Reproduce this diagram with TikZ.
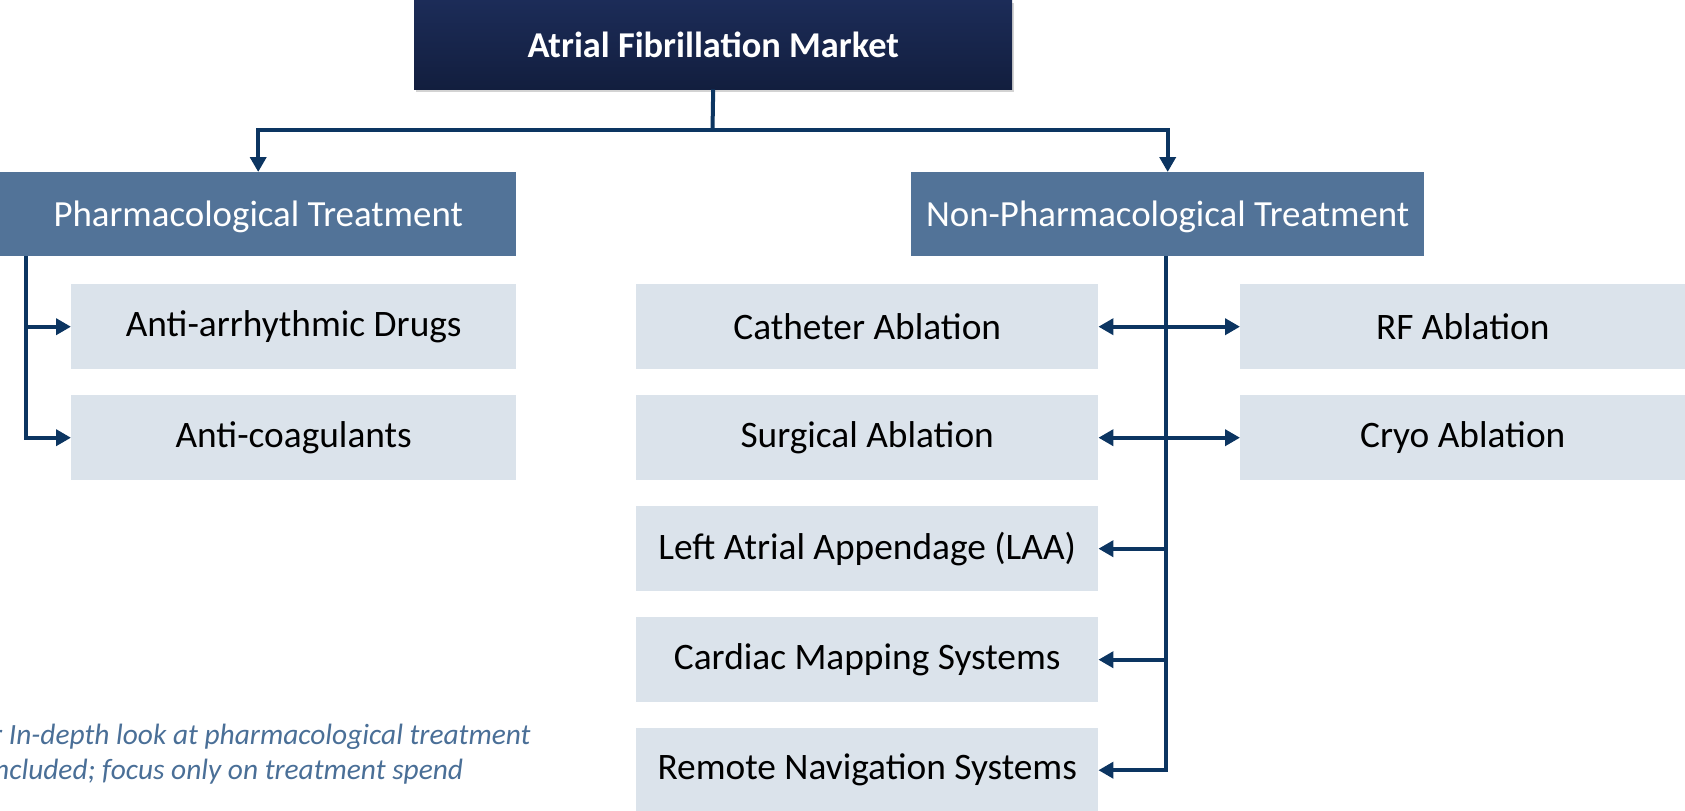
\documentclass[tikz,border=0pt]{standalone}
\usepackage{fontspec}
\setmainfont{Carlito}
\usetikzlibrary{arrows.meta,shadows,positioning}
\definecolor{navytop}{RGB}{28,44,88}
\definecolor{navybot}{RGB}{18,30,62}
\definecolor{midblue}{RGB}{82,115,152}
\definecolor{lightbox}{RGB}{219,227,235}
\definecolor{linecol}{RGB}{12,53,97}
\definecolor{notecol}{RGB}{74,111,151}
\tikzset{
  topbox/.style={rectangle, inner sep=0, minimum width=598bp, minimum height=89bp,
    top color=navytop, bottom color=navybot, text=white, font=\fontsize{36.5}{40}\selectfont\bfseries,
    drop shadow={shadow xshift=2bp, shadow yshift=-3bp, opacity=0.35}},
  midbox/.style={rectangle, inner sep=0, minimum height=84bp, fill=midblue, text=white,
    text depth=0bp, font=\fontsize{37}{40}\selectfont},
  leafbox/.style={rectangle, inner sep=0, minimum height=85bp, fill=lightbox, text=black,
    font=\fontsize{37.5}{40}\selectfont},
  conn/.style={draw=linecol, line width=4bp},
  arr/.style={conn, -{Triangle[length=15bp,width=16bp]}},
  darr/.style={conn, {Triangle[length=15bp,width=16bp]}-{Triangle[length=15bp,width=16bp]}},
  note/.style={text=notecol, font=\fontsize{29.5}{34}\selectfont\itshape, inner sep=0}
}
\begin{document}
\begin{tikzpicture}[x=1bp,y=-1bp]
\useasboundingbox (0,0) rectangle (1685,811);
% top
\node[topbox, anchor=north west] (top) at (414,0) {Atrial Fibrillation Market};
% level 2
\node[midbox, minimum width=516bp, anchor=north west] (ph) at (0,172) {Pharmacological Treatment};
\node[midbox, minimum width=513bp, anchor=north west] (nph) at (911,172) {Non-Pharmacological Treatment};
% pharmacological leaves
\node[leafbox, minimum width=445bp, anchor=north west] (aad) at (71,284) {Anti-arrhythmic Drugs};
\node[leafbox, minimum width=445bp, anchor=north west] (ac) at (71,395) {Anti-coagulants};
% non-pharmacological leaves
\node[leafbox, minimum width=462bp, anchor=north west] (cat) at (636,284) {Catheter Ablation};
\node[leafbox, minimum width=462bp, anchor=north west] (sur) at (636,395) {Surgical Ablation};
\node[leafbox, minimum width=462bp, anchor=north west] (laa) at (636,506) {Left Atrial Appendage (LAA)};
\node[leafbox, minimum width=462bp, anchor=north west] (cms) at (636,617) {Cardiac Mapping Systems};
\node[leafbox, minimum width=462bp, anchor=north west, minimum height=84bp] (rns) at (636,728) {Remote Navigation Systems};
\node[leafbox, minimum width=445bp, anchor=north west] (rf) at (1240,284) {RF Ablation};
\node[leafbox, minimum width=445bp, anchor=north west] (cryo) at (1240,395) {Cryo Ablation};
% note
\node[note, anchor=base west] (n1) at (-8,744) {r In-depth look at pharmacological treatment};
\node[note, anchor=base west] (n2) at (-6,779) {ncluded; focus only on treatment spend};
% connectors
\coordinate (j) at (712.5,130);
\coordinate (lx) at (26,0);
\coordinate (rx) at (1166,0);
\draw[conn] (top.south) -- (j);
\draw[arr] (j) -| (ph.north);
\draw[arr] (j) -| (nph.north);
\draw[arr] (lx |- ph.south) |- (aad.west);
\draw[arr] (lx |- ph.south) |- (ac.west);
\draw[arr] (rx |- nph.south) |- (rns.east);
\draw[darr] (cat.east) -- (rf.west);
\draw[darr] (sur.east) -- (cryo.west);
\draw[arr] (rx |- laa.east) -- (laa.east);
\draw[arr] (rx |- cms.east) -- (cms.east);
\end{tikzpicture}
\end{document}
